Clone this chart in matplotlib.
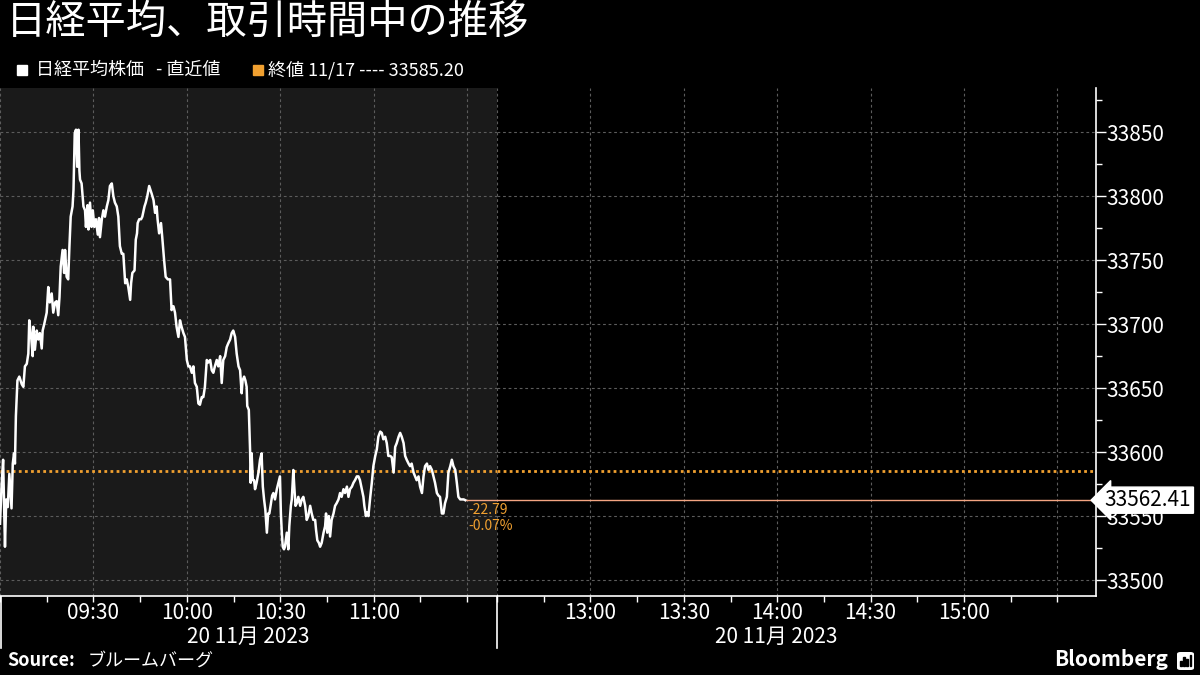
import matplotlib
matplotlib.use("Agg")
import matplotlib.pyplot as plt
from matplotlib.lines import Line2D
from matplotlib.patches import Rectangle, FancyBboxPatch
from matplotlib.ticker import FixedLocator, MultipleLocator

plt.rcParams['font.family'] = ['Noto Sans CJK JP', 'DejaVu Sans']

# 日経平均 (分: 09:00 からの経過時間)
minutes = [
    0.0, 0.5, 1.0, 1.6, 2.0, 2.5, 3.0, 3.7, 4.1, 4.5,
    4.8, 5.1, 5.6, 6.2, 7.0, 7.5, 8.0, 8.6, 9.1, 9.4,
    10.0, 10.5, 10.7, 11.2, 11.8, 12.3, 12.8, 13.4, 13.7, 14.2,
    15.0, 15.5, 16.0, 16.6, 17.1, 17.7, 18.2, 18.7, 19.1, 19.5,
    20.1, 20.6, 20.9, 21.4, 21.9, 22.3, 22.7, 23.3, 23.6, 24.0,
    24.4, 24.8, 25.2, 25.5, 25.7, 26.2, 26.8, 27.3, 27.6, 28.1,
    28.4, 28.9, 29.4, 29.8, 30.3, 30.8, 31.4, 31.8, 32.1, 32.7,
    33.2, 33.7, 34.3, 34.8, 35.3, 35.9, 36.4, 36.9, 37.5, 38.0,
    38.5, 39.1, 39.6, 40.2, 40.7, 41.2, 41.8, 42.1, 42.5, 43.2,
    43.6, 44.0, 44.2, 44.7, 45.3, 45.7, 46.4, 46.8, 47.3, 47.9,
    48.3, 48.7, 49.3, 49.8, 50.3, 50.6, 51.1, 51.7, 52.1, 52.7,
    53.2, 53.9, 54.6, 55.1, 55.7, 56.2, 56.7, 57.3, 57.8, 58.3,
    58.9, 59.4, 60.0, 60.5, 61.0, 61.6, 62.1, 62.6, 63.2, 63.7,
    64.2, 64.8, 65.3, 65.8, 66.4, 66.9, 67.5, 68.0, 68.5, 69.0,
    69.6, 70.1, 70.7, 71.2, 71.7, 72.3, 72.8, 73.3, 73.9, 74.4,
    74.9, 75.5, 76.0, 76.6, 77.1, 77.6, 77.9, 78.4, 78.8, 79.2,
    79.4, 79.9, 80.3, 80.5, 80.8, 81.2, 81.6, 81.9, 82.4, 83.0,
    83.5, 84.0, 84.4, 84.8, 85.2, 85.7, 86.1, 86.5, 86.9, 87.4,
    87.8, 88.3, 88.9, 89.4, 89.9, 90.2, 90.5, 90.8, 91.2, 91.5,
    92.1, 92.6, 92.9, 93.4, 93.7, 94.2, 94.5, 94.9, 95.3, 95.8,
    96.4, 96.9, 97.4, 98.0, 98.5, 99.0, 99.6, 100.1, 100.6, 101.2,
    101.5, 101.9, 102.4, 102.8, 103.3, 103.9, 104.4, 104.7, 105.1, 105.6,
    106.0, 106.5, 107.1, 107.6, 108.1, 108.7, 109.2, 109.7, 110.3, 110.8,
    111.4, 111.9, 112.4, 113.0, 113.5, 114.0, 114.6, 115.1, 115.6, 116.2,
    116.7, 117.0, 117.5, 117.8, 118.3, 118.9, 119.4, 119.9, 120.5, 121.0,
    121.5, 122.1, 122.6, 123.1, 123.7, 124.2, 124.7, 125.3, 125.8, 126.4,
    126.9, 127.4, 128.0, 128.5, 129.0, 129.6, 130.1, 130.6, 131.2, 131.7,
    132.2, 132.8, 133.3, 133.8, 134.4, 134.9, 135.5, 136.0, 136.5, 137.1,
    137.6, 138.1, 138.7, 139.2, 139.7, 140.3, 140.8, 141.3, 141.9, 142.4,
    142.9, 143.5, 144.0, 144.6, 145.1, 145.6, 146.2, 146.7, 147.2, 147.8,
    148.3, 148.9, 149.4,
]
prices = [
    33544, 33573, 33594, 33526, 33563, 33557, 33583, 33556, 33591, 33599,
    33591, 33628, 33656, 33659, 33653, 33651, 33667, 33669, 33677, 33703,
    33690, 33675, 33698, 33680, 33695, 33688, 33693, 33681, 33695, 33700,
    33709, 33729, 33717, 33724, 33709, 33717, 33718, 33707, 33721, 33745,
    33758, 33740, 33758, 33737, 33735, 33761, 33784, 33792, 33805, 33849,
    33852, 33823, 33852, 33820, 33813, 33810, 33792, 33789, 33776, 33793,
    33774, 33795, 33776, 33789, 33776, 33782, 33770, 33783, 33768, 33782,
    33789, 33784, 33792, 33797, 33808, 33810, 33800, 33795, 33792, 33784,
    33761, 33755, 33755, 33732, 33735, 33729, 33719, 33732, 33740, 33742,
    33766, 33771, 33779, 33782, 33782, 33784, 33792, 33795, 33800, 33808,
    33805, 33802, 33797, 33787, 33792, 33782, 33771, 33779, 33768, 33750,
    33737, 33735, 33735, 33711, 33714, 33709, 33698, 33690, 33703, 33698,
    33693, 33690, 33672, 33667, 33667, 33662, 33667, 33654, 33651, 33638,
    33637, 33643, 33643, 33651, 33672, 33670, 33672, 33664, 33662, 33667,
    33672, 33667, 33675, 33654, 33672, 33675, 33682, 33685, 33688, 33693,
    33695, 33690, 33677, 33667, 33664, 33646, 33656, 33659, 33656, 33651,
    33636, 33633, 33602, 33576, 33599, 33578, 33578, 33571, 33576, 33584,
    33594, 33599, 33573, 33563, 33555, 33537, 33552, 33552, 33558, 33566,
    33568, 33563, 33571, 33576, 33581, 33552, 33537, 33526, 33524, 33526,
    33537, 33524, 33542, 33558, 33563, 33586, 33573, 33558, 33560, 33565,
    33558, 33563, 33565, 33558, 33547, 33550, 33558, 33552, 33547, 33547,
    33539, 33531, 33529, 33526, 33529, 33537, 33542, 33552, 33537, 33550,
    33534, 33547, 33552, 33558, 33560, 33563, 33568, 33565, 33571, 33568,
    33573, 33565, 33571, 33573, 33576, 33578, 33581, 33581, 33578, 33571,
    33565, 33558, 33550, 33553, 33550, 33565, 33576, 33589, 33597, 33602,
    33612, 33616, 33615, 33610, 33612, 33607, 33597, 33597, 33596, 33584,
    33604, 33607, 33612, 33615, 33612, 33607, 33597, 33594, 33591, 33589,
    33591, 33584, 33581, 33578, 33581, 33573, 33568, 33581, 33589, 33591,
    33586, 33589, 33586, 33581, 33576, 33568, 33566, 33565, 33552, 33552,
    33560, 33565, 33584, 33589, 33594, 33589, 33586, 33576, 33565, 33563,
    33563, 33563, 33562.41,
]

prev_close = 33585.20
prev_close_date = "11/17"
session_date = "20 11月 2023"

am_ticks = [0, 30, 60, 90, 120, 150]
am_labels = ["", "09:30", "10:00", "10:30", "11:00", ""]
pm_ticks = [210, 240, 270, 300, 330, 360, 390]
pm_labels = ["", "13:00", "13:30", "14:00", "14:30", "15:00", ""]

title = "日経平均、取引時間中の推移"
series_name = "日経平均株価   - 直近値"
source_label = "ブルームバーグ"

ORANGE = '#f0a030'
GRID = '#5c5c5c'

last = prices[-1]
change = last - prev_close
pct = change / prev_close * 100

fig = plt.figure(figsize=(12, 6.75), dpi=100, facecolor='black')
W, H = 1200, 675
bottom = 1 - 596 / H
height = (596 - 88) / H
ax1 = fig.add_axes([0, bottom, 497 / W, height])
ax2 = fig.add_axes([497 / W, bottom, 598.7 / W, height], sharey=ax1)
ax1.set_zorder(2)
ax2.set_zorder(1)

ax1.set_facecolor('#1a1a1a')
ax2.set_facecolor('black')
ax1.set_xlim(0, 159.6)
ax2.set_xlim(210, 402.3)
ax1.set_ylim(33487.5, 33884.6)

for ax, ticks, labels in [(ax1, am_ticks, am_labels), (ax2, pm_ticks, pm_labels)]:
    for s in ax.spines.values():
        s.set_visible(False)
    ax.spines['bottom'].set_visible(True)
    ax.spines['bottom'].set_color('white')
    ax.spines['bottom'].set_linewidth(1.2)
    ax.xaxis.set_major_locator(FixedLocator(ticks))
    ax.set_xticklabels(labels)
    ax.xaxis.set_minor_locator(MultipleLocator(15))
    ax.tick_params(axis='x', which='both', direction='out', length=4, width=1,
                   color='white', labelcolor='white', labelsize=15, pad=0)
    ax.grid(True, which='major', color=GRID, linestyle=(0, (2.5, 2.5)), linewidth=0.8)
    ax.axhline(prev_close, color=ORANGE, linestyle=(0, (1, 1.2)), linewidth=2)
    ax.set_axisbelow(True)

ax2.spines['right'].set_visible(True)
ax2.spines['right'].set_color('white')
ax2.spines['right'].set_linewidth(1.2)
ax2.yaxis.set_major_locator(MultipleLocator(50))
ax2.yaxis.set_minor_locator(MultipleLocator(25))
ax2.yaxis.tick_right()
ax2.tick_params(axis='y', which='major', direction='out', length=7, width=1,
                color='white', labelcolor='white', labelsize=15, pad=1)
ax2.tick_params(axis='y', which='minor', direction='out', length=4, width=1, color='white')
ax1.tick_params(axis='y', which='both', left=False, right=False, labelleft=False)

# 直近値ライン
ax1.hlines(last, minutes[-1], 159.6, color='#f4a582', linewidth=1)
ax2.axhline(last, color='#f4a582', linewidth=1)

ax1.plot(minutes, prices, color='white', linewidth=1.8)

ax1.annotate(f"{change:.2f}", xy=(minutes[-1], last), xytext=(2, -7),
             textcoords='offset points', color=ORANGE, fontsize=10, va='center',
             annotation_clip=False)
ax1.annotate(f"{pct:.2f}%", xy=(minutes[-1], last), xytext=(2, -18.5),
             textcoords='offset points', color=ORANGE, fontsize=10, va='center',
             annotation_clip=False)

ax2.annotate(f"{last:.2f}", xy=(1, last), xycoords=('axes fraction', 'data'),
             xytext=(6.5, 0), textcoords='offset points', ha='left', va='center',
             fontsize=15, color='black', annotation_clip=False,
             bbox=dict(boxstyle='larrow,pad=0.1', fc='white', ec='white'))

# 日付ラベル
ax1.text(0.5, -0.08, session_date, transform=ax1.transAxes, ha='center', va='center',
         fontsize=15, color='white')
ax2.text(0.466, -0.08, session_date, transform=ax2.transAxes, ha='center', va='center',
         fontsize=15, color='white')

# セッション区切り線
for xpx in [0.8, 497]:
    fig.add_artist(Line2D([xpx / W, xpx / W], [bottom, 1 - 648 / H],
                          color='white', linewidth=1.2, transform=fig.transFigure))

# タイトル・凡例
fig.text(6 / W, 1 - 22 / H, title, fontsize=29, color='white', va='center')
fig.add_artist(Rectangle((17 / W, 1 - 75 / H), 10 / W, 10 / H, color='white',
                         transform=fig.transFigure))
fig.text(36 / W, 1 - 70 / H, series_name, fontsize=13, color='white', va='center')
fig.add_artist(Rectangle((253 / W, 1 - 75 / H), 10 / W, 10 / H, color=ORANGE,
                         transform=fig.transFigure))
fig.text(268 / W, 1 - 70 / H, f"終値 {prev_close_date} ---- {prev_close:.2f}",
         fontsize=13, color='white', va='center')

# フッター
fig.text(7 / W, 1 - 661 / H, "Source:", fontsize=13, color='white', weight='bold', va='center')
fig.text(88 / W, 1 - 661 / H, source_label, fontsize=13, color='white', va='center')
fig.text(1168 / W, 1 - 660 / H, "Bloomberg", fontsize=15, color='white', weight='bold',
         va='center', ha='right')
fig.add_artist(FancyBboxPatch((1177 / W, 1 - 670 / H), 17 / W, 18 / H,
                              boxstyle='round,pad=0,rounding_size=0.003',
                              fc='white', ec='none', transform=fig.transFigure))
for i, bh in enumerate([5, 9, 7, 11]):
    fig.add_artist(Rectangle(((1180 + i * 3.2) / W, 1 - 666 / H), 1.8 / W, bh / H,
                             color='black', transform=fig.transFigure))

fig.savefig('out.png', dpi=100, facecolor='black')
